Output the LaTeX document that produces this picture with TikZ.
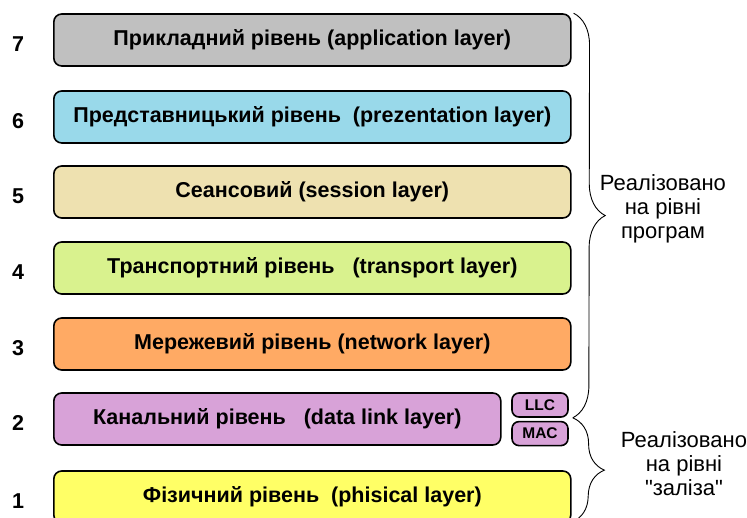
\documentclass[tikz,border=0pt]{standalone}
\usepackage{fontspec}
\setmainfont{Liberation Sans}
\newfontfamily\straightqfont{Liberation Sans}
\usetikzlibrary{positioning,decorations.pathreplacing}
\definecolor{appgray}{RGB}{192,192,192}
\definecolor{presblue}{RGB}{153,217,234}
\definecolor{sessbeige}{RGB}{238,225,176}
\definecolor{transgreen}{RGB}{217,242,142}
\definecolor{netorange}{RGB}{255,170,100}
\definecolor{linkviolet}{RGB}{216,162,216}
\definecolor{physyellow}{RGB}{255,255,102}
\tikzset{
  layerbox/.style={draw, line width=1.6pt, rounded corners=8pt, minimum height=52pt,
    inner sep=0pt, font=\bfseries\fontsize{21.5}{24}\selectfont},
  sublayer/.style={draw, line width=1.6pt, rounded corners=7pt, fill=linkviolet,
    minimum width=56pt, minimum height=24pt, inner sep=0pt,
    font=\bfseries\fontsize{15.5}{18}\selectfont},
  layernum/.style={font=\bfseries\fontsize{21.5}{24}\selectfont},
  bracelabel/.style={align=center, font=\fontsize{22}{24}\selectfont},
  bigbrace/.style={draw, line width=0.9pt, decorate, decoration={brace, amplitude=32pt}}
}
\begin{document}
\begin{tikzpicture}[x=1pt, y=-1pt]
\useasboundingbox (0,0) rectangle (747,518);
% the seven layers
\foreach \n/\cy/\w/\col/\txt in {
    7/40/517/appgray/{Прикладний рівень (application layer)},
    6/117/517/presblue/{Представницький рівень\ \ (prezentation layer)},
    5/192/517/sessbeige/{Сеансовий (session layer)},
    4/268/517/transgreen/{Транспортний рівень\ \ \ (transport layer)},
    3/344/517/netorange/{Мережевий рівень (network layer)},
    2/419/447/linkviolet/{Канальний рівень\ \ \ (data link layer)},
    1/497/517/physyellow/{Фізичний рівень\ \ (phisical layer)}} {
  \node[layerbox, fill=\col, minimum width=\w pt, anchor=west] (L\n) at (53,\cy) {\txt};
  \node[layernum] (num\n) at (18,\cy+4) {\n};
}
% data link sublayers
\node[sublayer] (LLC) at (540,405) {LLC};
\node[sublayer, below=3pt of LLC] (MAC) {MAC};
% braces
\coordinate (hwend) at (572,522);
\draw[bigbrace] ([xshift=2pt]L7.north east) -- ([xshift=4pt]LLC.south east);
\draw[bigbrace] ([xshift=4pt]LLC.south east) -- (hwend);
\node[bracelabel] (softlbl) at (663,209) {Реалізовано\\на рівні\\програм};
\node[bracelabel] (hardlbl) at (684,464) {Реалізовано\\на рівні\\{\straightqfont"}заліза{\straightqfont"}};
\end{tikzpicture}
\end{document}
